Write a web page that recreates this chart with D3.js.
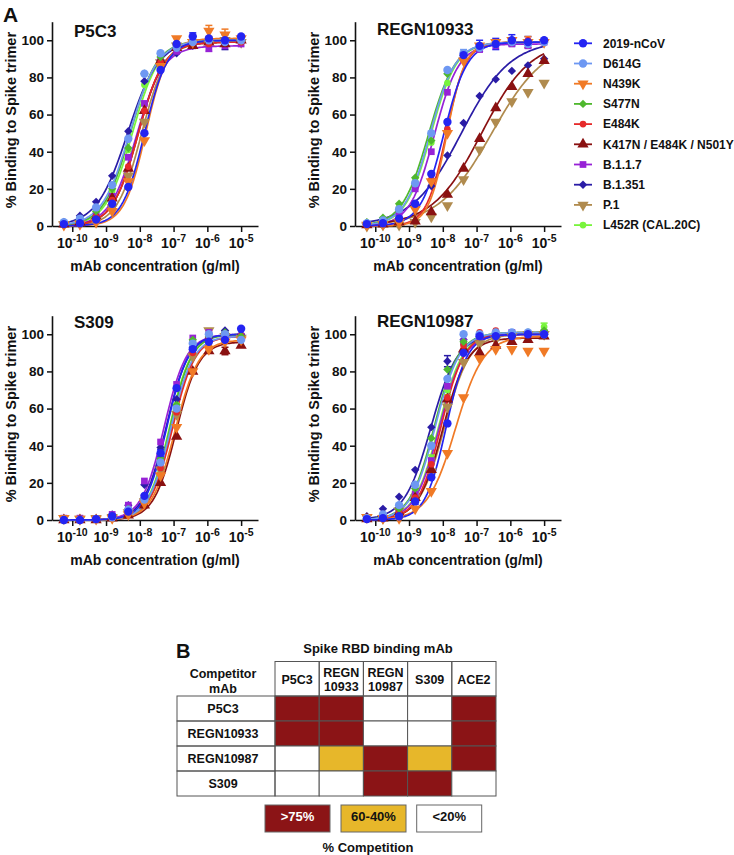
<!DOCTYPE html>
<html><head><meta charset="utf-8">
<script src="https://cdn.jsdelivr.net/npm/d3@7"></script>
<style>
body{margin:0;background:#fff;}
text{font-family:"Liberation Sans",Arial,Helvetica,sans-serif;font-weight:bold;fill:#111;}
</style>
</head><body>
<svg id="chart" width="734" height="855"></svg>
<script>
// ---------- DATA ----------
const concentrations = [5.65e-11, 1.69e-10, 5.08e-10, 1.52e-9, 4.57e-9, 1.37e-8, 4.12e-8, 1.23e-7, 3.70e-7, 1.11e-6, 3.33e-6, 1e-5];
const xTickValues = [1e-10, 1e-9, 1e-8, 1e-7, 1e-6, 1e-5];
const yTickValues = [0, 20, 40, 60, 80, 100];

const seriesNames = ["2019-nCoV","D614G","N439K","S477N","E484K","K417N / E484K / N501Y","B.1.1.7","B.1.351","P.1","L452R (CAL.20C)"];
const seriesColors = ["#2424F2","#6E98F2","#F07A26","#4FB82E","#E62A2A","#8A1111","#9722D6","#2A1CA6","#B08B4E","#78F43C"];
const seriesSymbols = ["circle","circle","triangleDown","diamond","circle","triangle","square","diamond","triangleDown","circle"];
const symbolSizes = [55,55,55,45,35,55,45,45,55,35];

// P5C3
const p5c3Values = [
 [1, 1.5, 3.5, 12, 21, 50, 84, 98, 102, 101, 100, 102],
 [2, 4, 10, 22, 47, 82, 93, 96, 99, 100, 99, 100],
 [0.5, 1, 2, 8, 24, 46, 86, 101, 99, 105, 103, 101],
 [1.5, 3, 8, 20, 42, 82, 91, 97, 99, 100, 99, 100],
 [1, 2, 5, 14, 32, 62, 88, 97, 99, 98, 100, 99],
 [1, 2, 5, 15, 31, 62, 89, 96, 97, 99, 98, 100],
 [1, 2, 6, 16, 37, 66, 90, 94, 97, 96, 97, 98],
 [2, 5.5, 13, 27, 51, 78, 89, 93, 97, 99, 99, 100],
 [1, 1.5, 3, 10, 27, 56, 88, 97, 99, 98, 100, 99],
 [1.5, 3, 7, 19, 41, 76, 92, 97, 99, 100, 99, 100]
];
// fitted curve: [logEC50, hill slope, top]
const p5c3Fits = [[-7.86,1.3,100],[-8.3,1.05,100],[-7.82,1.35,101],[-8.28,1.1,100],[-8.05,1.15,99],[-8.05,1.15,99],[-8.1,1.1,97],[-8.36,0.95,100],[-7.95,1.2,99],[-8.22,1.1,100]];
const p5c3Errors = [[2,9,3],[7,10,4],[6,9,2],[0,8,2],[2,10,3]];

// REGN10933
const regn10933Values = [
 [1, 1.5, 4, 12, 28, 56, 92, 97, 98, 100, 99, 100],
 [1.5, 3, 9, 23, 50, 84, 93, 96, 98, 99, 98, 99],
 [0.5, 1, 2, 9, 24, 50, 89, 97, 99, 100, 99, 99],
 [2, 4.5, 12, 26, 46, 82, 92, 96, 98, 99, 99, 100],
 [1, 1.5, 3, 10, 25, 52, 90, 97, 99, 99, 100, 99],
 [0.5, 1, 2, 2.5, 7.5, 17, 31, 47, 63.5, 75, 82, 89],
 [1, 2.5, 7, 20, 40, 72, 90, 95, 97, 98, 97, 99],
 [1, 1.5, 4, 10, 21.5, 38, 55.5, 70, 79, 83.5, 86.5, 90],
 [0, 0.5, 0.5, 2, 5, 11, 25, 41, 56, 67, 72, 77],
 [1.5, 3, 10, 24, 45, 77, 92, 96, 98, 99, 99, 99]
];
const regn10933Fits = [[-7.97,1.25,99],[-8.38,1.15,99],[-7.88,1.6,99],[-8.42,1.1,99],[-7.9,1.5,99],[-6.85,0.6,100],[-8.25,1.2,98],[-7.45,0.6,100],[-6.55,0.55,100],[-8.35,1.15,99]];
const regn10933Errors = [[0,7,3],[0,8,3],[0,9,3],[0,10,3],[2,10,3],[1,6,2]];

// S309
const s309Values = [
 [0, 0, 0.5, 2, 4.5, 13, 36, 71, 92, 96, 97, 103],
 [0, 0, 0.5, 1.5, 5.5, 11, 31, 60, 95, 100, 100, 97],
 [1, 0.5, 0.5, 1, 3, 9, 24, 50, 80, 92, 96, 97],
 [0, 0, 0.5, 2, 6, 12, 33, 62, 97, 99, 101, 99],
 [0, 0, 0.5, 1.5, 4, 10, 28, 58, 90, 98, 100, 99],
 [0, 0, 0, 1, 2.5, 8, 20, 45, 80, 91, 91, 94],
 [1, 1, 0.5, 3, 8, 21, 42, 73, 98, 101, 100, 99],
 [0, 0, 0.5, 3, 8, 19, 39, 65, 93, 98, 102, 100],
 [1, 0.5, 1, 1.5, 4, 10, 27, 57, 88, 102, 99, 98],
 [0, 0, 0.5, 2, 5, 12, 32, 62, 96, 100, 101, 98]
];
const s309Fits = [[-7.2,1.35,100],[-7.08,1.3,99],[-6.95,1.25,97],[-7.1,1.35,100],[-7.03,1.3,99],[-6.92,1.3,96],[-7.28,1.3,100],[-7.22,1.3,100],[-7.05,1.3,99],[-7.12,1.35,100]];
const s309Errors = [[2,9,2],[5,10,2],[0,6,2]];

// REGN10987
const regn10987Values = [
 [0.5, 1, 2, 10, 23, 52, 90, 99, 99, 99, 100, 100],
 [1, 3, 8, 19, 40, 76, 100, 100, 101, 101, 101, 100],
 [1.5, 1, 1, 6, 15.5, 36, 66, 87, 92, 92, 91, 91],
 [1, 2, 6, 17, 44, 81, 96, 100, 101, 100, 101, 102],
 [0.5, 1, 4, 12, 30, 66, 94, 101, 102, 101, 100, 101],
 [0.5, 1, 4, 12, 27, 65, 92, 90, 94, 96, 97, 99],
 [1, 2, 5, 14, 32, 72, 96, 99, 100, 101, 100, 101],
 [2, 6, 12.5, 27, 50, 85.5, 97, 99, 99, 100, 100, 100],
 [1.5, 1, 5, 12, 26, 61, 85, 95, 97, 99, 100, 100],
 [1, 2, 5, 15, 33, 70, 95, 99, 100, 101, 100, 104]
];
const regn10987Fits = [[-7.9,1.4,100],[-8.22,1.2,101],[-7.62,1.05,99],[-8.25,1.2,101],[-8.05,1.25,101],[-8.0,1.2,98],[-8.1,1.2,100],[-8.35,1.1,100],[-7.95,1.15,100],[-8.12,1.2,101]];
const regn10987Errors = [[7,5,3],[9,5,2.5],[9,4,2],[9,11,2],[0,3,1.5]];

// Competition table
const tableColumns = [["P5C3"],["REGN","10933"],["REGN","10987"],["S309"],["ACE2"]];
const tableRows = ["P5C3","REGN10933","REGN10987","S309"];
// 2: >75%, 1: 60-40%, 0: <20%
const competition = [
 [2,2,0,0,2],
 [2,2,0,0,2],
 [0,1,2,1,2],
 [0,0,2,2,0]
];
const competitionLabels = ["<20%","60-40%",">75%"];
const competitionColors = ["#FFFFFF","#E7B72A","#8B1416"];

// ---------- DRAWING ----------
const svg = d3.select("#chart");

function symbolPath(name, size){
  let type = d3.symbolCircle;
  if(name==="triangle"||name==="triangleDown") type = d3.symbolTriangle;
  if(name==="square") type = d3.symbolSquare;
  if(name==="diamond") type = d3.symbolDiamond2 || d3.symbolSquare;
  return d3.symbol().type(type).size(size)();
}
function symbolTransform(name, x, y){
  let t = `translate(${x},${y})`;
  if(name==="triangleDown") t += " rotate(180)";
  if(name==="diamond" && !d3.symbolDiamond2) t += " rotate(45)";
  return t;
}
function fourPL(logx, fit){ return fit[2]/(1+Math.pow(10, fit[1]*(fit[0]-logx))); }

function drawPanel(opt){
  const g = svg.append("g");
  const x = d3.scaleLog().domain([Math.pow(10,-10.6), Math.pow(10,-4.5)]).range([opt.x0, opt.x0+206]);
  const y = d3.scaleLinear().domain([0,110]).range([opt.y0, opt.y0-204.3]);

  const ya = g.append("g").attr("transform",`translate(${opt.x0},0)`)
    .call(d3.axisLeft(y).tickValues(yTickValues).tickSize(5).tickSizeOuter(0).tickPadding(3));
  ya.selectAll("text").style("font-size","13.5px").attr("fill","#111");
  const xa = g.append("g").attr("transform",`translate(0,${opt.y0})`)
    .call(d3.axisBottom(x).tickValues(xTickValues).tickSize(6).tickSizeOuter(0).tickFormat(""));
  [ya, xa].forEach(a=>{
    a.select(".domain").attr("stroke","#111").attr("stroke-width",1.6);
    a.selectAll(".tick line").attr("stroke","#111").attr("stroke-width",1.5);
  });
  // x tick labels with superscripts
  xTickValues.forEach(v=>{
    const t = g.append("text").attr("x", x(v)).attr("y", opt.y0+22).attr("text-anchor","middle").style("font-size","14px");
    t.append("tspan").text("10");
    t.append("tspan").attr("dy",-6).style("font-size","10.5px").text("-" + Math.round(-Math.log10(v)));
  });
  g.append("text").attr("x", opt.x0+103).attr("y", opt.y0+45).attr("text-anchor","middle")
    .style("font-size","14px").text("mAb concentration (g/ml)");
  g.append("text").attr("transform",`translate(${opt.x0-36.5},${y(57)}) rotate(-90)`)
    .attr("text-anchor","middle").style("font-size","14.5px").text("% Binding to Spike trimer");
  g.append("text").attr("x", opt.x0+22).attr("y", opt.titleY).style("font-size","17px").text(opt.title);

  const logs = concentrations.map(c=>Math.log10(c));
  const samples = d3.range(0,121).map(i=>logs[0] + (logs[11]-logs[0])*i/120);
  const line = d3.line().x(d=>x(Math.pow(10,d[0]))).y(d=>y(d[1]));
  const order = d3.range(seriesNames.length).reverse();
  order.forEach(s=>{
    g.append("path").attr("d", line(samples.map(l=>[l, fourPL(l, opt.fits[s])])))
      .attr("fill","none").attr("stroke", seriesColors[s]).attr("stroke-width",1.7);
  });
  // error bars
  opt.errors.forEach(e=>{
    const s=e[0], i=e[1], sd=e[2], v=opt.values[s][i], cx=x(concentrations[i]);
    const eg = g.append("g").attr("stroke", seriesColors[s]).attr("stroke-width",1.5);
    eg.append("line").attr("x1",cx).attr("x2",cx).attr("y1",y(v-sd)).attr("y2",y(v+sd));
    eg.append("line").attr("x1",cx-3.5).attr("x2",cx+3.5).attr("y1",y(v-sd)).attr("y2",y(v-sd));
    eg.append("line").attr("x1",cx-3.5).attr("x2",cx+3.5).attr("y1",y(v+sd)).attr("y2",y(v+sd));
  });
  order.forEach(s=>{
    g.append("g").selectAll("path").data(opt.values[s]).join("path")
      .attr("d", symbolPath(seriesSymbols[s], symbolSizes[s]))
      .attr("transform",(d,i)=>symbolTransform(seriesSymbols[s], x(concentrations[i]), y(d)))
      .attr("fill", seriesColors[s]);
  });
}

drawPanel({x0:52, y0:226, title:"P5C3", titleY:37, values:p5c3Values, fits:p5c3Fits, errors:p5c3Errors});
drawPanel({x0:355, y0:226, title:"REGN10933", titleY:35, values:regn10933Values, fits:regn10933Fits, errors:regn10933Errors});
drawPanel({x0:52, y0:520, title:"S309", titleY:328, values:s309Values, fits:s309Fits, errors:s309Errors});
drawPanel({x0:355, y0:520, title:"REGN10987", titleY:327, values:regn10987Values, fits:regn10987Fits, errors:regn10987Errors});

svg.append("text").attr("x",3).attr("y",22).style("font-size","21px").text("A");
svg.append("text").attr("x",176).attr("y",658).style("font-size","20px").text("B");

// legend
const lg = svg.append("g");
seriesNames.forEach((n,s)=>{
  const cy = 43.3 + s*20.2;
  lg.append("line").attr("x1",574).attr("x2",592).attr("y1",cy).attr("y2",cy).attr("stroke",seriesColors[s]).attr("stroke-width",1.8);
  lg.append("path").attr("d", symbolPath(seriesSymbols[s], symbolSizes[s])).attr("transform", symbolTransform(seriesSymbols[s],583,cy)).attr("fill",seriesColors[s]);
  lg.append("text").attr("x",603).attr("y",cy+4.3).style("font-size","12px").text(n);
});

// table
const tg = svg.append("g");
const colX = d3.scaleBand().domain(d3.range(tableColumns.length)).range([275, 496]);
const rowY = d3.scaleBand().domain(d3.range(tableRows.length)).range([696, 796]);
const fs = "12.5px";
tg.append("text").attr("x",378).attr("y",653).attr("text-anchor","middle").style("font-size","13px").text("Spike RBD binding mAb");
tg.append("text").attr("x",223).attr("y",678).attr("text-anchor","middle").style("font-size",fs).text("Competitor");
tg.append("text").attr("x",223).attr("y",693).attr("text-anchor","middle").style("font-size",fs).text("mAb");
// cells
competition.forEach((row,r)=>row.forEach((v,c)=>{
  tg.append("rect").attr("x",colX(c)).attr("y",rowY(r)).attr("width",colX.bandwidth()).attr("height",rowY.bandwidth())
    .attr("fill",competitionColors[v]).attr("stroke","#555").attr("stroke-width",1);
}));
tableColumns.forEach((lines,c)=>{
  tg.append("rect").attr("x",colX(c)).attr("y",661.5).attr("width",colX.bandwidth()).attr("height",696-661.5)
    .attr("fill","none").attr("stroke","#555").attr("stroke-width",1);
  const cx = colX(c)+colX.bandwidth()/2;
  if(lines.length===1){
    tg.append("text").attr("x",cx).attr("y",683.5).attr("text-anchor","middle").style("font-size",fs).text(lines[0]);
  } else {
    tg.append("text").attr("x",cx).attr("y",676.5).attr("text-anchor","middle").style("font-size",fs).text(lines[0]);
    tg.append("text").attr("x",cx).attr("y",691).attr("text-anchor","middle").style("font-size",fs).text(lines[1]);
  }
});
tableRows.forEach((n,r)=>{
  tg.append("rect").attr("x",177).attr("y",rowY(r)).attr("width",275-177).attr("height",rowY.bandwidth())
    .attr("fill","none").attr("stroke","#555").attr("stroke-width",1);
  tg.append("text").attr("x",223).attr("y",rowY(r)+rowY.bandwidth()/2+4.5).attr("text-anchor","middle").style("font-size",fs).text(n);
});
// competition legend
const legendOrder = [2,1,0];
const boxX = [265, 341, 416.7];
legendOrder.forEach((lv,i)=>{
  tg.append("rect").attr("x",boxX[i]).attr("y",805).attr("width",65).attr("height",27)
    .attr("fill",competitionColors[lv]).attr("stroke","#666").attr("stroke-width",1);
  tg.append("text").attr("x",boxX[i]+32.5).attr("y",821).attr("text-anchor","middle")
    .style("font-size","13px").style("fill", lv===2?"#fff":"#111").text(competitionLabels[lv]);
});
tg.append("text").attr("x",368).attr("y",852).attr("text-anchor","middle").style("font-size","13px").text("% Competition");
</script>
</body></html>
